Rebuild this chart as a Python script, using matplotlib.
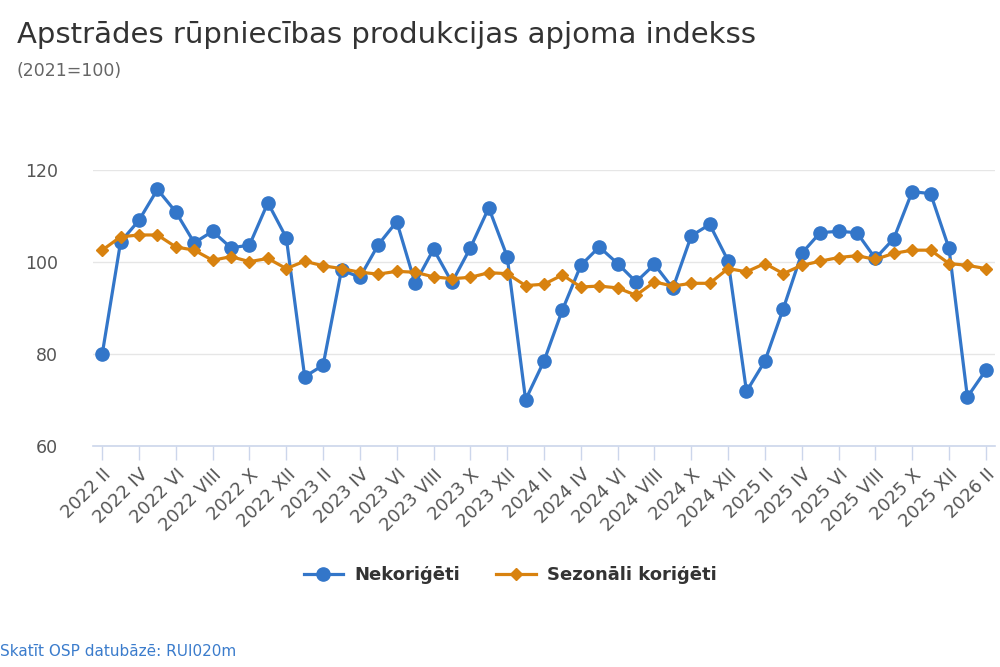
import numpy as np
import matplotlib
matplotlib.use("Agg")
import matplotlib.pyplot as plt

romans = ["I", "II", "III", "IV", "V", "VI", "VII", "VIII", "IX", "X", "XI", "XII"]

# months 2022 II .. 2026 II
periods = []
for year in range(2022, 2027):
    for m in range(12):
        if (year == 2022 and m < 1) or (year == 2026 and m > 1):
            continue
        periods.append(f"{year} {romans[m]}")

nekorigeti = [80.0, 104.4, 109.1, 115.8, 110.9, 104.2, 106.7, 103.1, 103.7, 112.9, 105.3,
              75.1, 77.6, 98.3, 96.7, 103.8, 108.8, 95.4, 102.8, 95.6, 103.1, 111.8, 101.2,
              70.1, 78.5, 89.6, 99.3, 103.3, 99.7, 95.7, 99.5, 94.3, 105.7, 108.2, 100.3,
              71.9, 78.5, 89.9, 101.9, 106.4, 106.7, 106.4, 100.8, 105.1, 115.3, 114.9, 103.0,
              70.7, 76.5]

sezonali = [102.6, 105.5, 105.9, 105.9, 103.3, 102.6, 100.4, 101.2, 100.1, 100.8, 98.6,
            100.2, 99.2, 98.6, 97.8, 97.4, 98.0, 97.8, 96.8, 96.4, 96.7, 97.7, 97.5,
            94.9, 95.2, 97.2, 94.6, 94.8, 94.4, 92.8, 95.7, 94.8, 95.4, 95.4, 98.6,
            97.9, 99.7, 97.5, 99.3, 100.2, 101.0, 101.4, 100.6, 101.9, 102.6, 102.6, 99.7,
            99.3, 98.6]

y_ticks = [60, 80, 100, 120]

plt.rcParams["font.family"] = ["DejaVu Sans"]

fig = plt.figure(figsize=(10, 6.67), dpi=100)
ax = fig.add_axes([0.093, 0.331, 0.902, 0.414])

x = np.arange(len(periods))
blue = "#3376c9"
orange = "#d8820f"

ax.plot(x, nekorigeti, color=blue, lw=2.3, marker="o", ms=9.5,
        label="Nekoriģēti", zorder=3)
ax.plot(x, sezonali, color=orange, lw=2.3, marker="D", ms=6.5,
        label="Sezonāli koriģēti", zorder=4)

ax.set_xlim(-0.5, len(periods) - 0.5)
ax.set_ylim(60, 120)
ax.set_yticks(y_ticks)
ax.grid(axis="y", color="#e6e6e6", lw=1)
ax.set_axisbelow(True)

ax.set_xticks(x[::2])
ax.set_xticklabels(periods[::2], rotation=45, ha="right", va="top",
                   rotation_mode="anchor", fontsize=13, color="#555555")
ax.tick_params(axis="x", length=10, color="#ccd6eb", width=1, pad=4)
ax.tick_params(axis="y", length=0, pad=25, labelsize=12.5, labelcolor="#555555")

for s in ["top", "right", "left"]:
    ax.spines[s].set_visible(False)
ax.spines["bottom"].set_color("#ccd6eb")
ax.spines["bottom"].set_linewidth(1.2)

fig.text(0.017, 0.936, "Apstrādes rūpniecības produkcijas apjoma indekss",
         fontsize=21, color="#333333", va="baseline")
fig.text(0.017, 0.886, "(2021=100)", fontsize=12.5, color="#666666", va="baseline")

leg = fig.legend(loc="center", bbox_to_anchor=(0.51, 0.138), ncol=2, frameon=False,
                 prop={"weight": "bold", "size": 13}, handlelength=2.2,
                 columnspacing=2.0, handletextpad=0.6)
for t in leg.get_texts():
    t.set_color("#333333")

fig.text(0.0, 0.012, "Skatīt OSP datubāzē: RUI020m", fontsize=11,
         color="#3b7ccc", va="bottom")

fig.savefig("out.png", dpi=100)
